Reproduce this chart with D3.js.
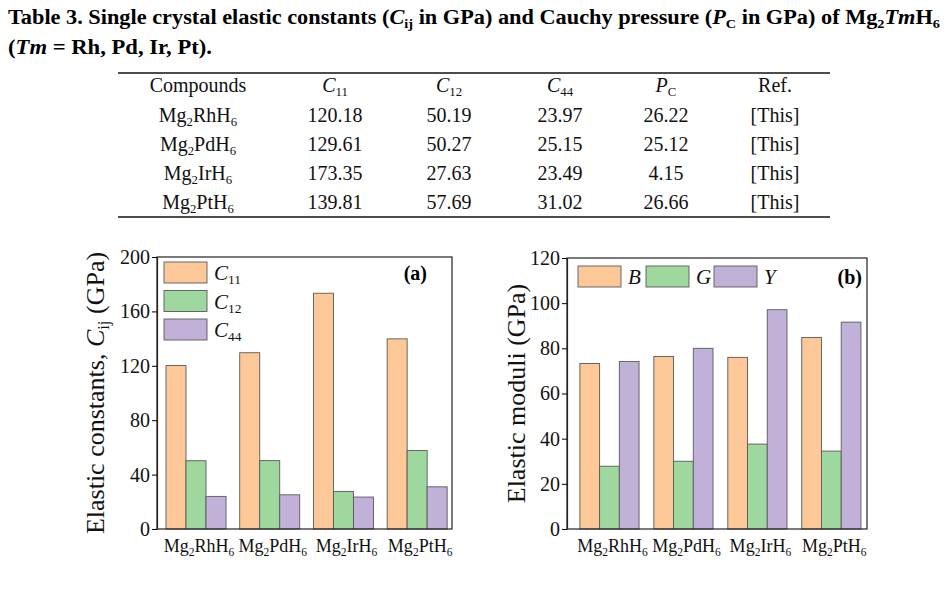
<!DOCTYPE html>
<html>
<head>
<meta charset="utf-8">
<script src="https://cdn.jsdelivr.net/npm/d3@7"></script>
<style>
	body { margin: 0; background: #fff; }
	svg { display: block; font-family: "Liberation Serif", "Times New Roman", serif; }
</style>
</head>
<body>
<div id="fig"></div>
<script>
// values (table 3 + panel b)
const compounds = ["Mg2RhH6", "Mg2PdH6", "Mg2IrH6", "Mg2PtH6"];
const c11 = [120.18, 129.61, 173.35, 139.81];
const c12 = [50.19, 50.27, 27.63, 57.69];
const c44 = [23.97, 25.15, 23.49, 31.02];
const cauchy = [26.22, 25.12, 4.15, 26.66];
const refs = ["[This]", "[This]", "[This]", "[This]"];

const bulkB = [73.3, 76.4, 76.0, 84.8];
const shearG = [27.8, 30.0, 37.6, 34.5];
const youngY = [74.2, 80.0, 97.1, 91.6];

const cijTicks = [0, 40, 80, 120, 160, 200];
const moduliTicks = [0, 20, 40, 60, 80, 100, 120];
const barColors = ["#fdc898", "#9ed89e", "#c1b1d8"];

const W = 948, H = 594;

let svg = d3.select("#fig").append("svg")
	.attr("width", W)
	.attr("height", H);

// text runs with italic / subscript pieces
function addRuns(textSel, runs, size) {
	let shifted = false;
	let off = size * 0.2;
	runs.forEach((r) => {
		let ts = textSel.append("tspan").text(r.t);
		if (r.it) ts.attr("font-style", "italic");
		if (r.sub) {
			ts.attr("font-size", size * 0.64);
			if (!shifted) { ts.attr("dy", off); shifted = true; }
		} else if (shifted) {
			ts.attr("dy", -off);
			shifted = false;
		}
	});
	return textSel;
}

function chem(str) {
	return str.match(/[A-Za-z]+|\d+/g).map((s) => {
		return /\d/.test(s) ? {t: s, sub: true} : {t: s};
	});
}

// title
let t1 = svg.append("text")
	.attr("x", 8).attr("y", 24)
	.attr("font-size", 20).attr("font-weight", "bold")
	.attr("textLength", 932).attr("lengthAdjust", "spacingAndGlyphs");
addRuns(t1, [
	{t: "Table 3. Single crystal elastic constants ("}, {t: "C", it: true}, {t: "ij", sub: true},
	{t: " in GPa) and Cauchy pressure ("}, {t: "P", it: true}, {t: "C", sub: true},
	{t: " in GPa) of Mg"}, {t: "2", sub: true}, {t: "Tm", it: true}, {t: "H"}, {t: "6", sub: true}
], 20);

let t2 = svg.append("text")
	.attr("x", 8).attr("y", 54)
	.attr("font-size", 20).attr("font-weight", "bold")
	.attr("textLength", 204).attr("lengthAdjust", "spacingAndGlyphs");
addRuns(t2, [{t: "("}, {t: "Tm", it: true}, {t: " = Rh, Pd, Ir, Pt)."}], 20);

// table
let colX = [198, 335, 449, 560, 666, 775];
let headRuns = [
	[{t: "Compounds"}],
	[{t: "C", it: true}, {t: "11", sub: true}],
	[{t: "C", it: true}, {t: "12", sub: true}],
	[{t: "C", it: true}, {t: "44", sub: true}],
	[{t: "P", it: true}, {t: "C", sub: true}],
	[{t: "Ref."}]
];
let table = svg.append("g").attr("font-size", 20).attr("fill", "#111");

[73, 217].forEach((ly) => {
	table.append("line")
		.attr("x1", 118).attr("x2", 830)
		.attr("y1", ly).attr("y2", ly)
		.attr("stroke", "#111")
		.attr("stroke-width", 1.4);
});

headRuns.forEach((runs, i) => {
	let tx = table.append("text")
		.attr("x", colX[i]).attr("y", 92)
		.attr("text-anchor", "middle");
	addRuns(tx, runs, 20);
});

compounds.forEach((c, r) => {
	let rowY = 122 + r * 29;
	let cells = [chem(c), [{t: c11[r].toFixed(2)}], [{t: c12[r].toFixed(2)}],
		[{t: c44[r].toFixed(2)}], [{t: cauchy[r].toFixed(2)}], [{t: refs[r]}]];
	cells.forEach((runs, i) => {
		let tx = table.append("text")
			.attr("x", colX[i]).attr("y", rowY)
			.attr("text-anchor", "middle");
		addRuns(tx, runs, 20);
	});
});

class groupedBars {
	constructor(box, cfg) {
		this.g = svg.append("g")
			.attr("transform", `translate(${box.x},${box.y})`);
		this.w = box.w;
		this.h = box.h;
		this.cfg = cfg;
	}

	render() {
		let cfg = this.cfg;

		this.x0 = d3.scaleBand()
			.domain(compounds)
			.range([0, this.w])
			.paddingInner(cfg.padIn)
			.paddingOuter(cfg.padOut)
			.align(cfg.align);

		this.x1 = d3.scaleBand()
			.domain(d3.range(cfg.series.length))
			.range([0, this.x0.bandwidth()]);

		this.y = d3.scaleLinear()
			.domain([0, cfg.yMax])
			.range([this.h, 0]);

		cfg.series.forEach((vals, s) => {
			this.g.append("g").selectAll("rect")
				.data(vals)
				.enter().append("rect")
				.attr("x", (d, i) => { return this.x0(compounds[i]) + this.x1(s); })
				.attr("y", (d) => { return this.y(d); })
				.attr("width", this.x1.bandwidth())
				.attr("height", (d) => { return this.h - this.y(d); })
				.attr("fill", barColors[s])
				.attr("stroke", "#5a5a5a")
				.attr("stroke-width", 0.9);
		});

		// frame
		this.g.append("rect")
			.attr("width", this.w).attr("height", this.h)
			.attr("fill", "none")
			.attr("stroke", "#222").attr("stroke-width", 1.2);

		let yAxis = this.g.append("g")
			.call(d3.axisLeft(this.y).tickValues(cfg.ticks).tickSize(5).tickPadding(2).tickSizeOuter(0));
		yAxis.select(".domain").attr("stroke", "#222").attr("stroke-width", 1.2);
		yAxis.selectAll("text")
			.attr("font-family", "Liberation Serif")
			.attr("font-size", 20)
			.attr("fill", "#111");

		let xAxis = this.g.append("g")
			.attr("transform", `translate(0,${this.h})`)
			.call(d3.axisBottom(this.x0).tickSize(0).tickPadding(0).tickFormat(""));
		xAxis.select(".domain").remove();
		xAxis.selectAll(".tick").each(function(d) {
			let tx = d3.select(this).append("text")
				.attr("x", 3)
				.attr("y", 23)
				.attr("text-anchor", "middle")
				.attr("fill", "#111")
				.attr("font-family", "Liberation Serif")
				.attr("font-size", 18);
			addRuns(tx, chem(d), 18);
		});

		let lab = this.g.append("text")
			.attr("transform", `translate(${cfg.labelX},${this.h / 2}) rotate(-90)`)
			.attr("text-anchor", "middle")
			.attr("font-size", 26)
			.attr("fill", "#111");
		addRuns(lab, cfg.label, 26);

		this.legend();

		this.g.append("text")
			.attr("x", this.w - cfg.tagDx).attr("y", cfg.tagY)
			.attr("text-anchor", "end")
			.attr("font-size", 20).attr("font-weight", "bold")
			.text(cfg.tag);
	}

	legend() {
		let cfg = this.cfg;
		cfg.legend.forEach((runs, i) => {
			let lx = cfg.legendX + i * cfg.legendStepX;
			let ly = cfg.legendY + i * cfg.legendStepY;
			this.g.append("rect")
				.attr("x", lx).attr("y", ly)
				.attr("width", 43).attr("height", 21)
				.attr("fill", barColors[i])
				.attr("stroke", "#5a5a5a").attr("stroke-width", 0.9);
			let tx = this.g.append("text")
				.attr("x", lx + 50).attr("y", ly + 18)
				.attr("font-size", 21)
				.attr("fill", "#111");
			addRuns(tx, runs, 21);
		});
	}
}

let panelA = new groupedBars({x: 157, y: 257, w: 295, h: 272}, {
	series: [c11, c12, c44],
	yMax: 200,
	ticks: cijTicks,
	padIn: 0.186, padOut: 0.094, align: 0.65,
	label: [{t: "Elastic constants, "}, {t: "C", it: true}, {t: "ij", sub: true}, {t: " (GPa)"}],
	labelX: -53,
	legend: [
		[{t: "C", it: true}, {t: "11", sub: true}],
		[{t: "C", it: true}, {t: "12", sub: true}],
		[{t: "C", it: true}, {t: "44", sub: true}]
	],
	legendX: 7, legendY: 5, legendStepX: 0, legendStepY: 28.5,
	tag: "(a)", tagDx: 25, tagY: 23
});
panelA.render();

let panelB = new groupedBars({x: 567, y: 258, w: 300, h: 271}, {
	series: [bulkB, shearG, youngY],
	yMax: 120,
	ticks: moduliTicks,
	padIn: 0.2, padOut: 0.128, align: 0.68,
	label: [{t: "Elastic moduli (GPa)"}],
	labelX: -42,
	legend: [[{t: "B", it: true}], [{t: "G", it: true}], [{t: "Y", it: true}]],
	legendX: 11, legendY: 8, legendStepX: 68, legendStepY: 0,
	tag: "(b)", tagDx: 5, tagY: 26
});
panelB.render();
</script>
</body>
</html>
